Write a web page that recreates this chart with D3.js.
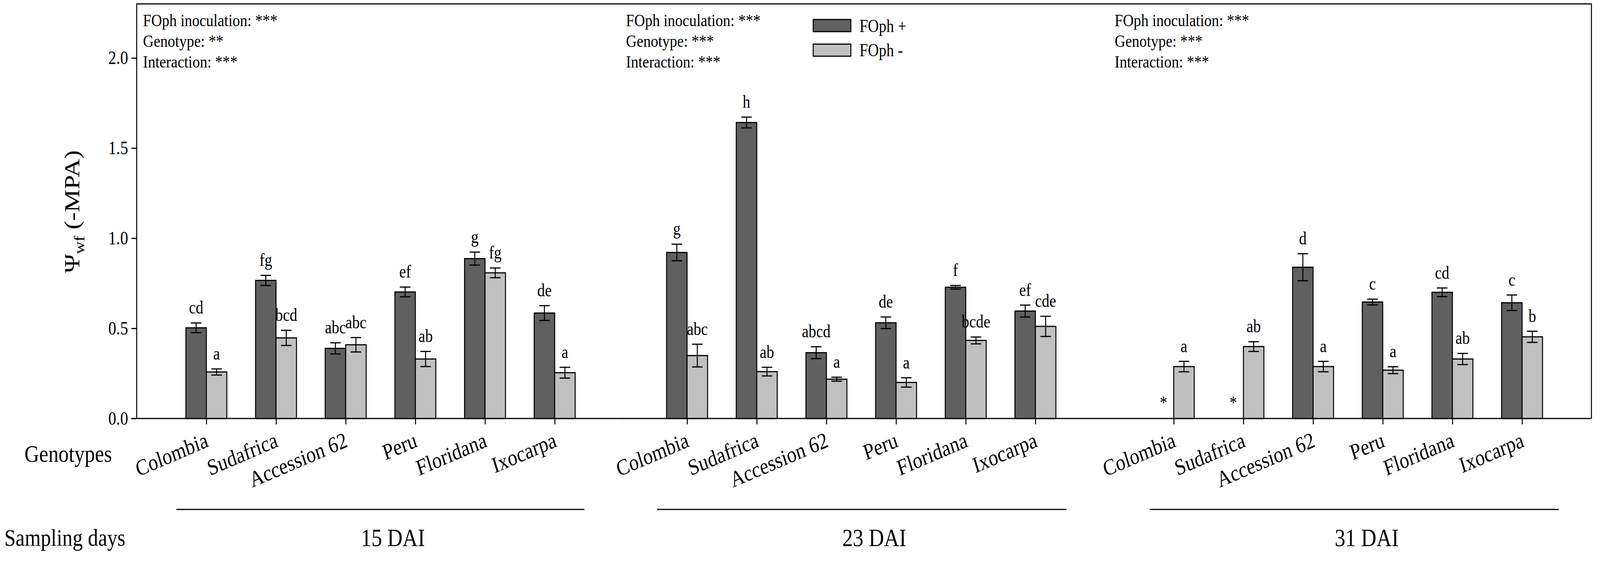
<!DOCTYPE html>
<html>
<head>
<meta charset="utf-8">
<script src="https://cdn.jsdelivr.net/npm/d3@7"></script>
<style>
  html, body { margin: 0; padding: 0; background: #fff; overflow: hidden; }
  svg { display: block; width: 100vw; height: 100vh; }
  text { font-family: "Liberation Serif", "Times New Roman", serif; fill: #000; }
</style>
</head>
<body>
<div id="chart"></div>
<script>
const WIDTH = 4846, HEIGHT = 1455;

// data
const genotypes = ["Colombia", "Sudafrica", "Accession 62", "Peru", "Floridana", "Ixocarpa"];
const days = ["15 DAI", "23 DAI", "31 DAI"];
const treatments = ["FOph +", "FOph -"];
const yTicks = [0.0, 0.5, 1.0, 1.5, 2.0];

const plus15 = [0.503, 0.766, 0.389, 0.702, 0.887, 0.585];
const plusErr15 = [0.027, 0.028, 0.031, 0.027, 0.036, 0.041];
const minus15 = [0.258, 0.447, 0.409, 0.330, 0.808, 0.254];
const minusErr15 = [0.017, 0.042, 0.040, 0.042, 0.027, 0.030];
const plusLetters15 = ["cd", "fg", "abc", "ef", "g", "de"];
const minusLetters15 = ["a", "bcd", "abc", "ab", "fg", "a"];

const plus23 = [0.921, 1.642, 0.365, 0.531, 0.728, 0.596];
const plusErr23 = [0.046, 0.030, 0.033, 0.032, 0.010, 0.033];
const minus23 = [0.349, 0.260, 0.218, 0.200, 0.433, 0.511];
const minusErr23 = [0.063, 0.024, 0.011, 0.026, 0.019, 0.056];
const plusLetters23 = ["g", "h", "abcd", "de", "f", "ef"];
const minusLetters23 = ["abc", "ab", "a", "a", "bcde", "cde"];

const plus31 = [null, null, 0.839, 0.646, 0.700, 0.642];
const plusErr31 = [null, null, 0.075, 0.016, 0.024, 0.043];
const minus31 = [0.288, 0.399, 0.288, 0.268, 0.330, 0.453];
const minusErr31 = [0.029, 0.027, 0.029, 0.019, 0.031, 0.031];
const plusLetters31 = ["*", "*", "d", "c", "cd", "c"];
const minusLetters31 = ["a", "ab", "a", "a", "ab", "b"];

const stats15 = ["FOph inoculation: ***", "Genotype: **", "Interaction: ***"];
const stats23 = ["FOph inoculation: ***", "Genotype: ***", "Interaction: ***"];
const stats31 = ["FOph inoculation: ***", "Genotype: ***", "Interaction: ***"];

const panels = [
  {plus: plus15, plusErr: plusErr15, minus: minus15, minusErr: minusErr15, pl: plusLetters15, ml: minusLetters15, stats: stats15},
  {plus: plus23, plusErr: plusErr23, minus: minus23, minusErr: minusErr23, pl: plusLetters23, ml: minusLetters23, stats: stats23},
  {plus: plus31, plusErr: plusErr31, minus: minus31, minusErr: minusErr31, pl: plusLetters31, ml: minusLetters31, stats: stats31}
];

// layout
const TOP = 10, BOTTOM = 1072, LEFT = 414, RIGHT = 4820;
const panelEdges = [414, 1870, 3344, 4820];
const STEP = 211, BAR_W = 62, CAP = 16;
const noteDx = [19, 26, 32];
const sepLines = [[534, 1770], [1990, 3230], [3482, 4721]];
const DARK = "#606060", LIGHT = "#c0c0c0";
const colors = [DARK, LIGHT];

// drawn in 4846x1455 units, stretched to whatever the window really is
const svg = d3.select("#chart").append("svg")
    .attr("viewBox", `0 0 ${WIDTH} ${HEIGHT}`)
    .attr("preserveAspectRatio", "none");

const y = d3.scaleLinear().domain([0, 2.3]).range([BOTTOM, TOP]);

// y axis
const yAxis = svg.append("g")
    .attr("transform", `translate(${LEFT},0)`)
    .call(d3.axisLeft(y).tickValues(yTicks).tickFormat(d3.format(".1f")).tickSize(16).tickPadding(10));
yAxis.select(".domain").remove();
yAxis.selectAll("line").attr("stroke", "#000").attr("stroke-width", 3);
yAxis.selectAll("text")
    .style("font-family", '"Liberation Serif", "Times New Roman", serif')
    .style("font-size", "48px")
    .attr("fill", "#000");

// y title
const yTitle = svg.append("text")
    .attr("transform", "translate(240,542) rotate(-90)")
    .attr("text-anchor", "middle")
    .style("font-size", "66px");
yTitle.append("tspan").text("Ψ");
yTitle.append("tspan").attr("dy", 16).style("font-size", "44px").text("wf");
yTitle.append("tspan").attr("dy", -16).text(" (-MPA)");

panels.forEach((p, i) => {
  const left = panelEdges[i], right = panelEdges[i + 1];
  const x = d3.scalePoint().domain(genotypes).range([left + STEP, left + 6 * STEP]);
  const g = svg.append("g");

  // bottom axis with ticks
  const xAxis = g.append("g")
      .attr("transform", `translate(0,${BOTTOM})`)
      .call(d3.axisBottom(x).tickSize(15).tickFormat(""));
  xAxis.select(".domain").remove();
  xAxis.selectAll("line").attr("stroke", "#000").attr("stroke-width", 3);

  g.append("line")
      .attr("x1", i === 0 ? LEFT - 16 : left).attr("x2", right)
      .attr("y1", BOTTOM).attr("y2", BOTTOM)
      .attr("stroke", "#000").attr("stroke-width", 3);

  // bars
  const rows = [];
  genotypes.forEach((gname, k) => {
    rows.push({g: gname, t: 0, v: p.plus[k], e: p.plusErr[k], l: p.pl[k]});
    rows.push({g: gname, t: 1, v: p.minus[k], e: p.minusErr[k], l: p.ml[k]});
  });
  const present = rows.filter(d => d.v !== null);

  g.selectAll("rect.bar").data(present).join("rect")
      .attr("class", "bar")
      .attr("x", d => x(d.g) - (d.t === 0 ? BAR_W : 0))
      .attr("y", d => y(d.v))
      .attr("width", BAR_W)
      .attr("height", d => y(0) - y(d.v))
      .attr("fill", d => colors[d.t])
      .attr("stroke", "#000")
      .attr("stroke-width", 3);

  // error bars
  const cx = d => x(d.g) + (d.t === 0 ? -BAR_W / 2 : BAR_W / 2);
  const err = g.selectAll("g.err").data(present).join("g").attr("class", "err")
      .attr("stroke", "#000").attr("stroke-width", 3);
  err.append("line").attr("x1", cx).attr("x2", cx)
      .attr("y1", d => y(d.v + d.e)).attr("y2", d => y(d.v - d.e));
  err.append("line").attr("x1", d => cx(d) - CAP).attr("x2", d => cx(d) + CAP)
      .attr("y1", d => y(d.v + d.e)).attr("y2", d => y(d.v + d.e));
  err.append("line").attr("x1", d => cx(d) - CAP).attr("x2", d => cx(d) + CAP)
      .attr("y1", d => y(d.v - d.e)).attr("y2", d => y(d.v - d.e));

  // significance letters
  g.selectAll("text.letter").data(rows).join("text")
      .attr("class", "letter")
      .attr("x", cx)
      .attr("y", d => d.v === null ? y(0) - 25 : y(d.v + d.e) - 24)
      .attr("text-anchor", "middle")
      .style("font-size", "46px")
      .text(d => d.l);

  // genotype labels
  g.selectAll("text.geno").data(genotypes).join("text")
      .attr("class", "geno")
      .attr("transform", d => `translate(${x(d) + 9},1143) rotate(-20)`)
      .attr("text-anchor", "end")
      .style("font-size", "58px")
      .text(d => d);

  // statistics note
  g.selectAll("text.note").data(p.stats).join("text")
      .attr("class", "note")
      .attr("x", left + noteDx[i])
      .attr("y", (d, k) => 67 + k * 53)
      .style("font-size", "45px")
      .text(d => d);

  // sampling day separator + label
  const [sx1, sx2] = sepLines[i];
  g.append("line")
      .attr("x1", sx1).attr("x2", sx2).attr("y1", 1305).attr("y2", 1305)
      .attr("stroke", "#000").attr("stroke-width", 3);
  g.append("text")
      .attr("x", (sx1 + sx2) / 2 + 38)
      .attr("y", 1399)
      .attr("text-anchor", "middle")
      .style("font-size", "64px")
      .text(days[i]);
});

// frame
svg.append("path")
    .attr("d", `M${LEFT},${BOTTOM}V${TOP}H${RIGHT}V${BOTTOM}`)
    .attr("fill", "none").attr("stroke", "#000").attr("stroke-width", 3);

// legend
const legend = svg.append("g").attr("transform", "translate(2463,50)");
legend.selectAll("rect").data(treatments).join("rect")
    .attr("x", 0).attr("y", (d, k) => k * 63)
    .attr("width", 114).attr("height", 31)
    .attr("fill", (d, k) => colors[k])
    .attr("stroke", "#000").attr("stroke-width", 3);
legend.selectAll("text").data(treatments).join("text")
    .attr("x", 140).attr("y", (d, k) => 32 + k * 62)
    .style("font-size", "46px")
    .text(d => d);

// row headers
svg.append("text").attr("x", 74).attr("y", 1183).style("font-size", "62px").text("Genotypes");
svg.append("text").attr("x", 13).attr("y", 1398).style("font-size", "62px").text("Sampling days");
</script>
</body>
</html>
